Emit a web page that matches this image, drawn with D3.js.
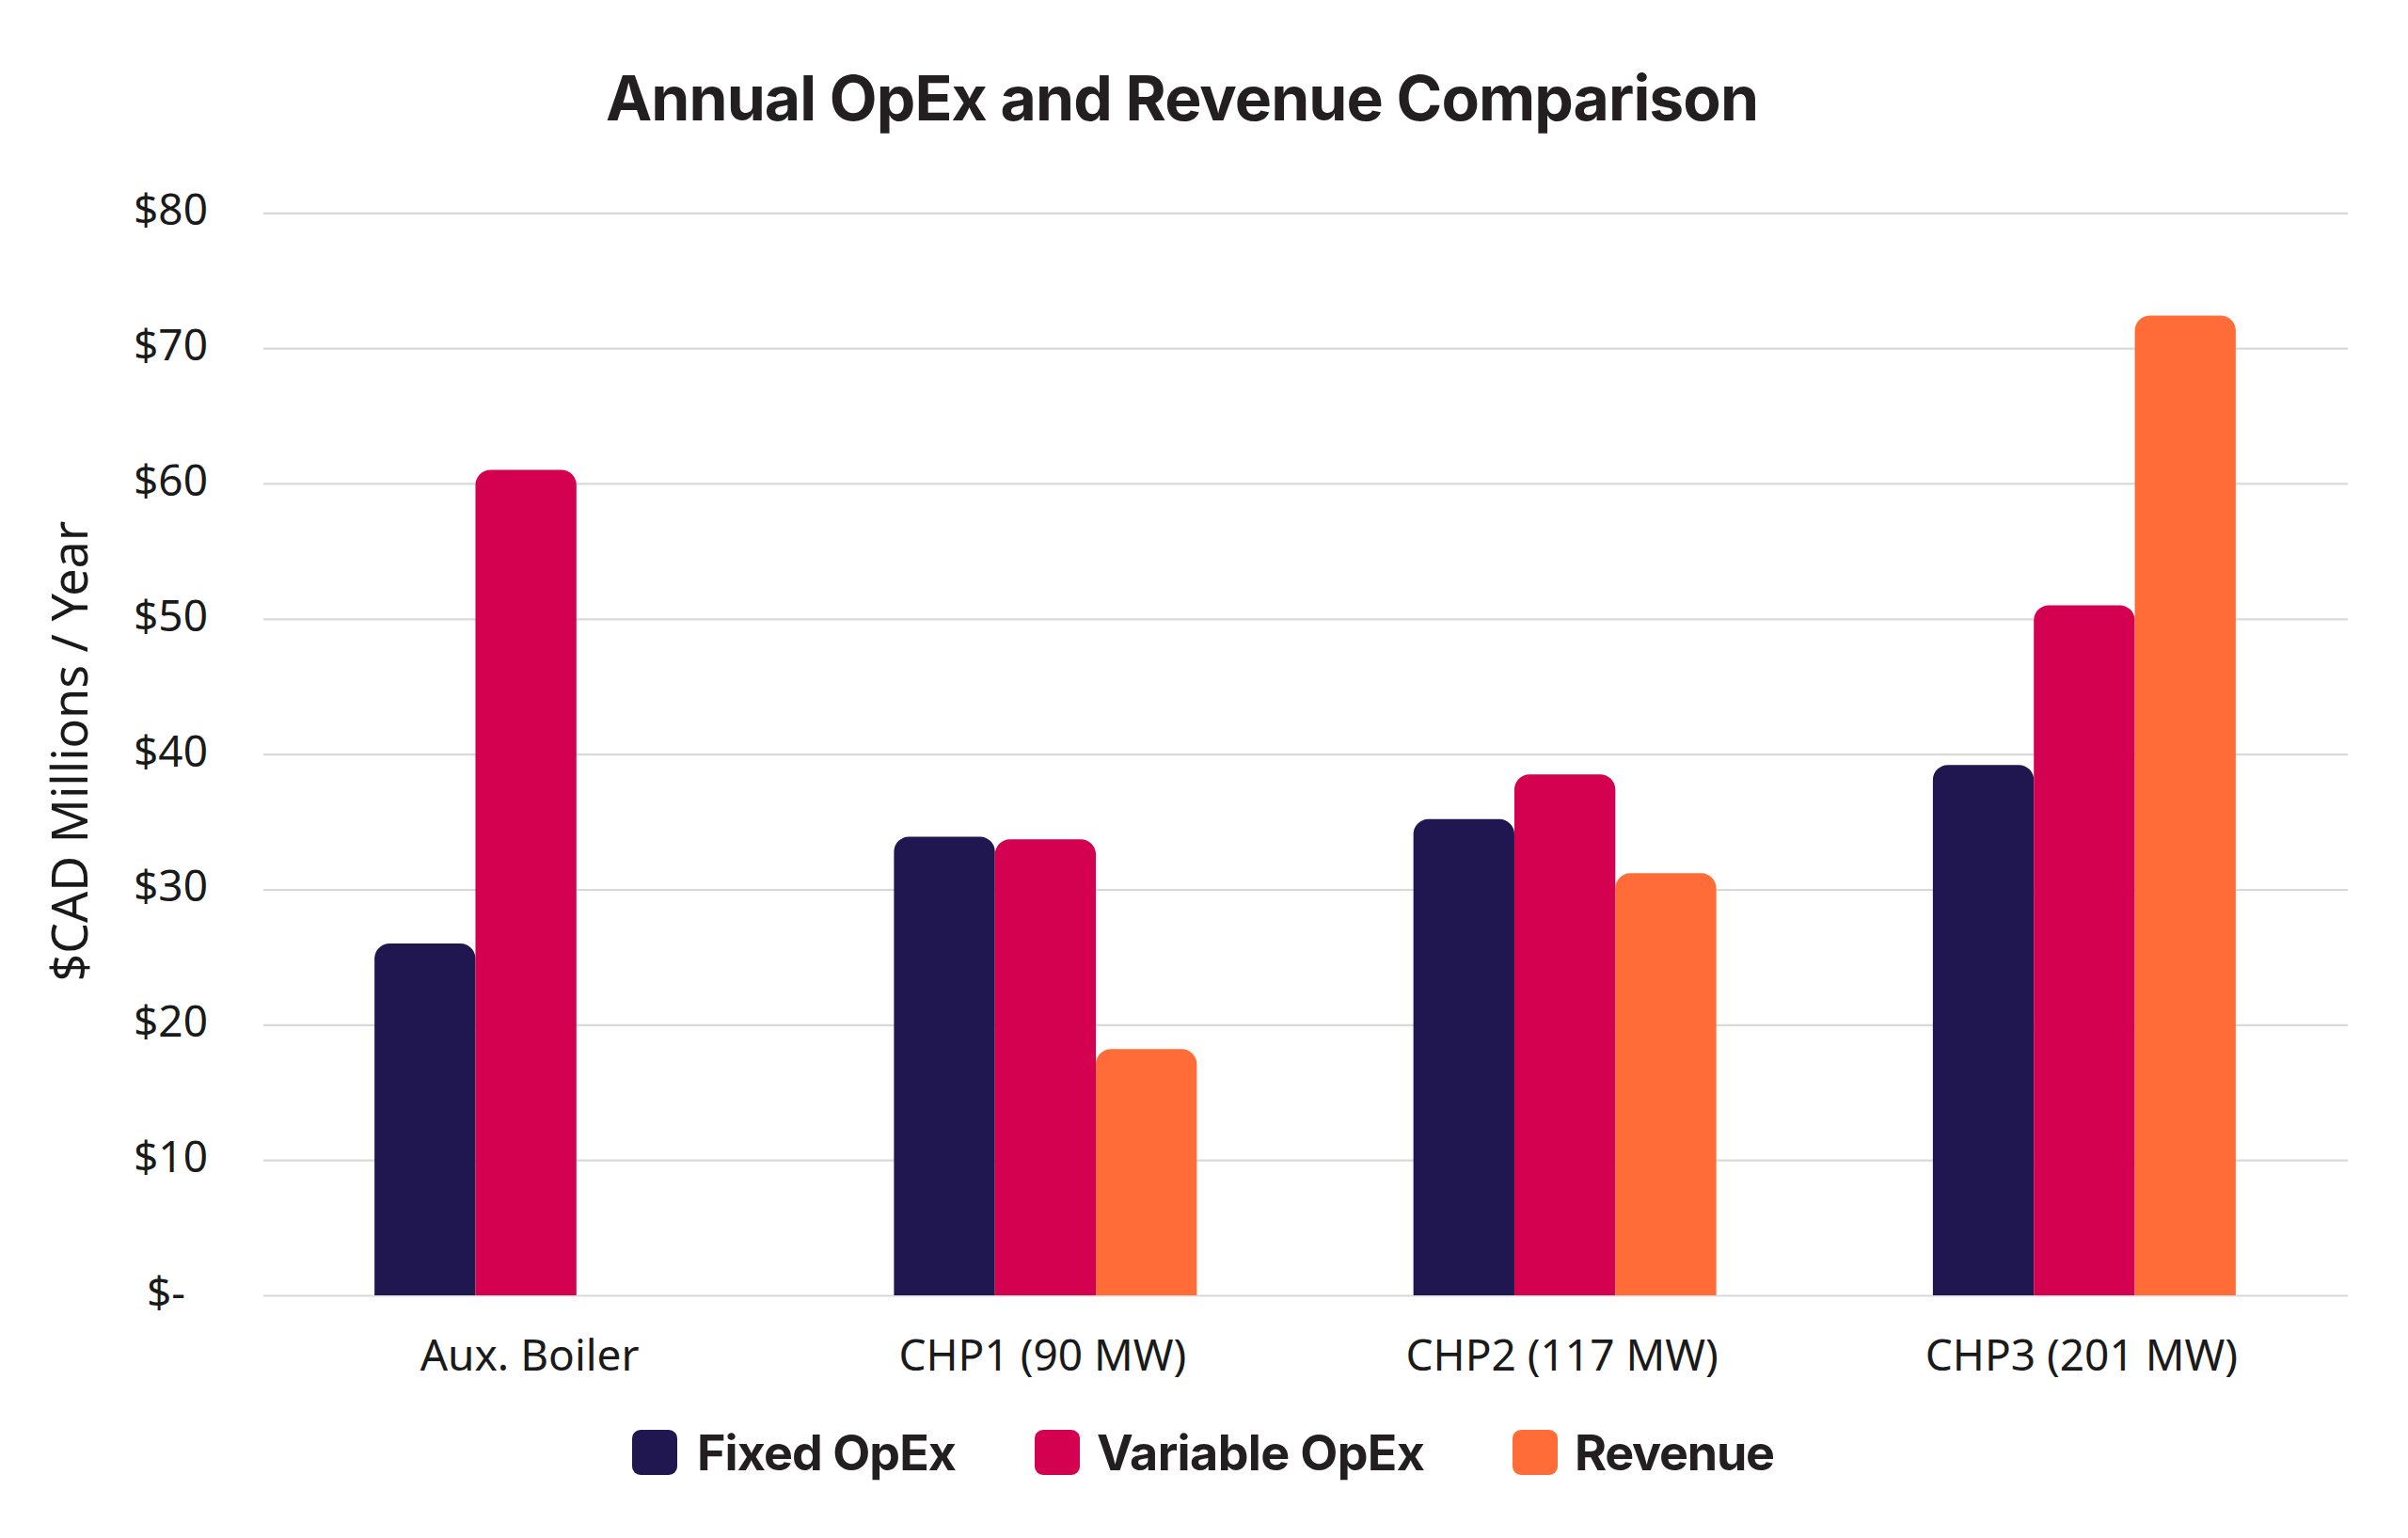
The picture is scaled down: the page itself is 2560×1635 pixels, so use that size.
<!DOCTYPE html>
<html>
<head>
<meta charset="utf-8">
<script src="https://cdn.jsdelivr.net/npm/d3@7"></script>
<style>
  html, body { margin: 0; padding: 0; background: #ffffff; }
  svg { display: block; }
</style>
</head>
<body>
<script>
// ---- Data ----
const categories = ["Aux. Boiler", "CHP1 (90 MW)", "CHP2 (117 MW)", "CHP3 (201 MW)"];
const seriesNames = ["Fixed OpEx", "Variable OpEx", "Revenue"];
const fixedOpex = [26.0, 33.9, 35.2, 39.2];
const variableOpex = [61.0, 33.7, 38.5, 51.0];
const revenue = [null, 18.2, 31.2, 72.4];
const yTicks = [0, 10, 20, 30, 40, 50, 60, 70, 80];
const yTickLabels = ["$-", "$10", "$20", "$30", "$40", "$50", "$60", "$70", "$80"];
const titleText = "Annual OpEx and Revenue Comparison";
const yAxisTitle = "$CAD Millions / Year";

// ---- Styles ----
const W = 2560, H = 1635;
const colors = ["#211750", "#d40050", "#ff6c37"];
const textColor = "#1a1a1a";
const titleFont = "Inter, 'Noto Sans', sans-serif";
const bodyFont = "'Noto Sans', 'Open Sans', sans-serif";

const seriesValues = [fixedOpex, variableOpex, revenue];
const rows = categories.map((c, i) => ({
  category: c,
  values: seriesNames.map((s, j) => ({ series: s, idx: j, value: seriesValues[j][i] }))
}));

const svg = d3.select("body").append("svg")
  .attr("width", W).attr("height", H)
  .attr("viewBox", `0 0 ${W} ${H}`);

const gridX0 = 280, gridX1 = 2496;
const x0 = d3.scaleBand().domain(categories).range([283, 2492]).paddingInner(0.417).paddingOuter(0.2085);
const x1 = d3.scaleBand().domain(seriesNames).range([0, x0.bandwidth()]).padding(0);
const y = d3.scaleLinear().domain([0, 80]).range([1377, 226.3]);

// Gridlines
svg.append("g")
  .attr("transform", `translate(${gridX0},0)`)
  .call(d3.axisLeft(y).tickValues(yTicks).tickSize(-(gridX1 - gridX0)).tickFormat(""))
  .call(g => g.select(".domain").remove())
  .call(g => g.selectAll("line").attr("stroke", "#d9d9d9").attr("stroke-width", 2.2));

// Y tick labels
svg.append("g")
  .attr("transform", `translate(${gridX0},0)`)
  .call(d3.axisLeft(y).tickValues(yTicks).tickSize(0).tickPadding(59)
        .tickFormat((d, i) => yTickLabels[i]))
  .call(g => g.select(".domain").remove())
  .call(g => g.selectAll("text")
    .attr("font-family", bodyFont).attr("font-size", 46).attr("fill", textColor)
    .attr("dy", "0.27em")
    .attr("dx", d => d === 0 ? -24 : 0));

// Bars with rounded top corners
function topRounded(x, yTop, w, h, r) {
  r = Math.min(r, w / 2, h);
  const p = d3.path();
  p.moveTo(x, yTop + h);
  p.lineTo(x, yTop + r);
  p.arcTo(x, yTop, x + r, yTop, r);
  p.lineTo(x + w - r, yTop);
  p.arcTo(x + w, yTop, x + w, yTop + r, r);
  p.lineTo(x + w, yTop + h);
  p.closePath();
  return p.toString();
}

const groups = svg.append("g").selectAll("g")
  .data(rows).join("g")
  .attr("transform", d => `translate(${x0(d.category)},0)`);

groups.selectAll("path")
  .data(d => d.values.filter(v => v.value != null))
  .join("path")
  .attr("fill", v => colors[v.idx])
  .attr("d", v => topRounded(x1(v.series), y(v.value), x1.bandwidth(), y(0) - y(v.value), 16));

// X axis labels
svg.append("g")
  .attr("transform", `translate(0,${y(0)})`)
  .call(d3.axisBottom(x0).tickSize(0).tickPadding(0))
  .call(g => g.select(".domain").remove())
  .call(g => g.selectAll("text")
    .attr("font-family", bodyFont).attr("font-size", 46).attr("fill", textColor)
    .attr("dy", null).attr("y", 80).attr("dx", (d, i) => i === 0 ? 4 : -3));

// Y axis title
svg.append("text")
  .attr("transform", `translate(93,${(y(0) + y(80)) / 2 - 3}) rotate(-90)`)
  .attr("text-anchor", "middle")
  .attr("font-family", bodyFont).attr("font-size", 52).attr("fill", textColor)
  .text(yAxisTitle);

// Title
const title = svg.append("text")
  .attr("x", 644).attr("y", 128)
  .attr("font-family", titleFont).attr("font-weight", 700).attr("font-size", 66)
  .attr("fill", "#231f20")
  .text(titleText);
function fitWidth(sel, target) {
  const n = sel.text().length;
  const len = sel.node().getComputedTextLength();
  sel.attr("letter-spacing", (target - len) / (n - 1));
}
fitWidth(title, 1226);

// Legend
const legendItems = [
  { x: 672, tx: 741, w: 276 },
  { x: 1100, tx: 1166, w: 349 },
  { x: 1608, tx: 1674, w: 213 }
];
const legend = svg.append("g");
seriesNames.forEach((s, i) => {
  const it = legendItems[i];
  legend.append("rect")
    .attr("x", it.x).attr("y", 1520).attr("width", 48).attr("height", 48)
    .attr("rx", 9).attr("fill", colors[i]);
  const t = legend.append("text")
    .attr("x", it.tx).attr("y", 1563)
    .attr("font-family", titleFont).attr("font-weight", 700).attr("font-size", 52)
    .attr("fill", "#231f20")
    .text(s);
  fitWidth(t, it.w);
});
</script>
</body>
</html>
